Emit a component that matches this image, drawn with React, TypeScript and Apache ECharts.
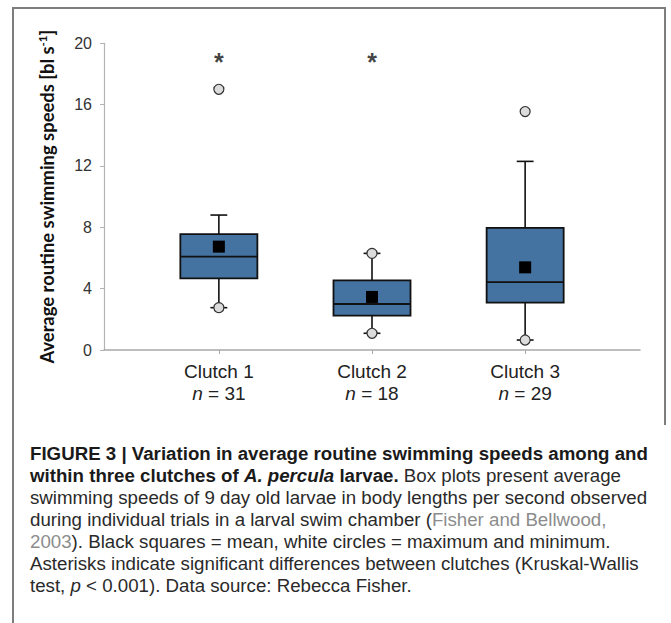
import React, { useEffect, useRef } from 'react';
import * as echarts from 'echarts';

// ---- data ----
const categories = ['Clutch 1', 'Clutch 2', 'Clutch 3'];
const sampleSizes = [31, 18, 29];
const whiskerLow = [2.76, 1.09, 0.65];
const quartile1 = [4.67, 2.24, 3.09];
const medians = [6.09, 3.0, 4.42];
const quartile3 = [7.55, 4.54, 7.96];
const whiskerHigh = [8.8, 6.3, 12.3];
const means = [6.74, 3.46, 5.39];
const maxima = [17.0, 6.3, 15.55];
const minima = [2.76, 1.09, 0.65];
const significant = [true, true, false];
const asteriskLevel = 19.2;
const yMin = 0;
const yMax = 20;
const yStep = 4;

const captionLines: string[] = [
  '{b|FIGURE 3 | Variation in average routine swimming speeds among and}',
  '{b|within three clutches of }{bi|A. percula}{b| larvae.}{r| Box plots present average}',
  '{r|swimming speeds of 9 day old larvae in body lengths per second observed}',
  '{r|during individual trials in a larval swim chamber (}{g|Fisher and Bellwood,}',
  '{g|2003}{r|). Black squares = mean, white circles = maximum and minimum.}',
  '{r|Asterisks indicate significant differences between clutches (Kruskal-Wallis}',
  '{r|test, }{ri|p}{r| < 0.001). Data source: Rebecca Fisher.}',
];

const W = 671;
const H = 623;

export default function App() {
  const ref = useRef<HTMLDivElement>(null);

  useEffect(() => {
    if (!ref.current) return;
    const chart = echarts.init(ref.current, undefined, { renderer: 'svg' });

    const boxData = categories.map((_, i) => [
      i + 1,
      whiskerLow[i],
      quartile1[i],
      medians[i],
      quartile3[i],
      whiskerHigh[i],
    ]);
    const extremeData = [
      ...maxima.map((v, i) => [i + 1, v]),
      ...minima.map((v, i) => [i + 1, v]),
    ];
    const meanData = means.map((v, i) => [i + 1, v]);
    const starData = significant
      .map((s, i) => (s ? [i + 1, asteriskLevel] : null))
      .filter((d) => d !== null);

    const capFont = 'Liberation Sans, Arial, sans-serif';
    const fs = 18.7;
    const captionRich = {
      b: { fontFamily: capFont, fontSize: fs, fontWeight: 'bold', fill: '#1a1a1a' },
      bi: { fontFamily: capFont, fontSize: fs, fontWeight: 'bold', fontStyle: 'italic', fill: '#1a1a1a' },
      r: { fontFamily: capFont, fontSize: fs, fill: '#2a2a2a' },
      ri: { fontFamily: capFont, fontSize: fs, fontStyle: 'italic', fill: '#2a2a2a' },
      g: { fontFamily: capFont, fontSize: fs, fill: '#8c8c8c' },
    };

    const graphic: any[] = [
      { type: 'line', shape: { x1: 12, y1: 8, x2: 665.5, y2: 8 }, style: { stroke: '#7d7d7d', lineWidth: 2 } },
      { type: 'line', shape: { x1: 13, y1: 7, x2: 13, y2: 623 }, style: { stroke: '#7d7d7d', lineWidth: 2 } },
      { type: 'line', shape: { x1: 665, y1: 7, x2: 665, y2: 425 }, style: { stroke: '#7d7d7d', lineWidth: 2 } },
      ...captionLines.map((t, i) => ({
        type: 'text',
        x: 30,
        y: 453 + i * 22,
        style: {
          text: t,
          rich: captionRich,
          verticalAlign: 'middle',
          align: 'left',
        },
      })),
    ];

    const option: any = {
      animation: false,
      backgroundColor: '#ffffff',
      grid: { left: 104, right: W - 640, top: 43.3, height: 306.7, containLabel: false },
      xAxis: {
        type: 'value',
        min: 0.25,
        max: 3.75,
        splitLine: { show: false },
        axisLine: { show: true, lineStyle: { color: '#a8a8a8', width: 1.5 } },
        axisTick: { show: true, customValues: [1, 2, 3], length: 4, lineStyle: { color: '#a8a8a8' } },
        axisLabel: {
          customValues: [1, 2, 3],
          margin: 10,
          formatter: (v: number) => {
            const i = Math.round(v) - 1;
            return `{a|${categories[i]}}\n{i|n}{a| = ${sampleSizes[i]}}`;
          },
          rich: {
            a: { fontFamily: capFont, fontSize: 19, color: '#222', lineHeight: 22 },
            i: { fontFamily: capFont, fontSize: 19, fontStyle: 'italic', color: '#222', lineHeight: 22 },
          },
        },
      },
      yAxis: {
        type: 'value',
        min: yMin,
        max: yMax,
        interval: yStep,
        splitLine: { show: false },
        axisLine: { show: true, lineStyle: { color: '#b4b4b4', width: 1.2 } },
        axisTick: { show: true, inside: false, length: 4, lineStyle: { color: '#b4b4b4' } },
        axisLabel: { fontFamily: capFont, fontSize: 16, color: '#333', margin: 12 },
        name: '{a|Average routine swimming speeds [bl s}{s|-1}{a|]}',
        nameLocation: 'middle',
        nameGap: 47,
        nameRotate: 90,
        nameTextStyle: {
          rich: {
            a: { fontFamily: 'Lato, sans-serif', fontWeight: 'bold', fontSize: 18.4, color: '#111' },
            s: { fontFamily: 'Lato, sans-serif', fontWeight: 'bold', fontSize: 11.5, color: '#111', verticalAlign: 'top', padding: [0, 0, 9, 0] },
          },
        },
      },
      series: [
        {
          type: 'custom',
          data: boxData,
          encode: { x: 0, y: [1, 2, 3, 4, 5] },
          z: 2,
          renderItem: (params: any, api: any) => {
            const x = api.value(0);
            const lo = api.coord([x, api.value(1)]);
            const q1 = api.coord([x, api.value(2)]);
            const med = api.coord([x, api.value(3)]);
            const q3 = api.coord([x, api.value(4)]);
            const hi = api.coord([x, api.value(5)]);
            const boxW = api.size([0.503, 0])[0];
            const capW = api.size([0.11, 0])[0];
            const cx = lo[0];
            const ls = { stroke: '#111', lineWidth: 1.6 };
            return {
              type: 'group',
              children: [
                { type: 'line', shape: { x1: cx, y1: hi[1], x2: cx, y2: q3[1] }, style: ls },
                { type: 'line', shape: { x1: cx, y1: q1[1], x2: cx, y2: lo[1] }, style: ls },
                { type: 'line', shape: { x1: cx - capW / 2, y1: hi[1], x2: cx + capW / 2, y2: hi[1] }, style: ls },
                { type: 'line', shape: { x1: cx - capW / 2, y1: lo[1], x2: cx + capW / 2, y2: lo[1] }, style: ls },
                {
                  type: 'rect',
                  shape: { x: cx - boxW / 2, y: q3[1], width: boxW, height: q1[1] - q3[1] },
                  style: { fill: '#4472a1', stroke: '#111', lineWidth: 1.8 },
                },
                { type: 'line', shape: { x1: cx - boxW / 2, y1: med[1], x2: cx + boxW / 2, y2: med[1] }, style: { stroke: '#111', lineWidth: 1.8 } },
              ],
            };
          },
        },
        {
          type: 'scatter',
          data: extremeData,
          symbol: 'circle',
          symbolSize: 10,
          z: 3,
          itemStyle: { color: '#dcdcdc', borderColor: '#333', borderWidth: 1.2, opacity: 1 },
        },
        {
          type: 'scatter',
          data: meanData,
          symbol: 'rect',
          symbolSize: 12,
          z: 4,
          itemStyle: { color: '#000', opacity: 1 },
        },
        {
          type: 'scatter',
          data: starData,
          symbolSize: 1,
          z: 4,
          itemStyle: { color: 'rgba(0,0,0,0)' },
          label: {
            show: true,
            formatter: '*',
            position: 'inside',
            offset: [0, 6],
            fontFamily: capFont,
            fontSize: 25,
            fontWeight: 'bold',
            color: '#111',
          },
        },
      ],
      graphic,
    };

    chart.setOption(option);
    return () => chart.dispose();
  }, []);

  return (
    <div
      ref={ref}
      style={{ position: 'absolute', left: 0, top: 0, width: W, height: H, background: '#fff' }}
    />
  );
}
